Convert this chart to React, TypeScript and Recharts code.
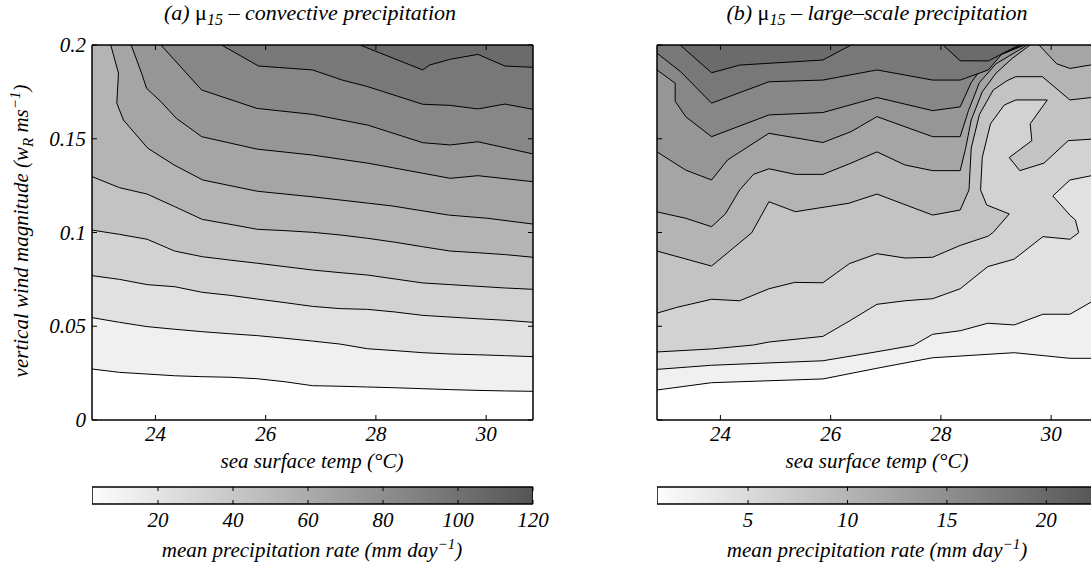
import React from 'react';
import { ComposedChart, Area, Bar, XAxis, YAxis } from 'recharts';

// sea surface temp axis (°C) and vertical wind magnitude axis
const sstDomain: [number, number] = [22.85, 30.85];
const sstTicks = [24, 26, 28, 30];
const windDomain: [number, number] = [0, 0.2];
const windTicks = [0, 0.05, 0.1, 0.15, 0.2];

// grey for the band above contour level k (k = 1..10)
const bandGreys = ['#f0f0f0', '#e1e1e1', '#d2d2d2', '#c3c3c3', '#b4b4b4', '#a5a5a5', '#969696', '#878787', '#787878', '#6b6b6b'];

// colour bars
const convRange: [number, number] = [2.4, 120];
const convTicks = [20, 40, 60, 80, 100, 120];
const lsRange: [number, number] = [0.42, 22.6];
const lsTicks = [5, 10, 15, 20];

// (a) convective: contour lines 1..5 sampled on the sst grid
const convGrid = [22.85, 23.35, 23.85, 24.35, 24.85, 25.35, 25.85, 26.35, 26.85, 27.35, 27.85, 28.35, 28.85, 29.35, 29.85, 30.35, 30.85];
const convL1 = [0.0272, 0.0254, 0.0245, 0.0236, 0.0231, 0.0228, 0.022, 0.0204, 0.0183, 0.018, 0.0176, 0.0172, 0.0167, 0.0162, 0.0158, 0.0155, 0.0153];
const convL2 = [0.0546, 0.0521, 0.0498, 0.0484, 0.0471, 0.046, 0.045, 0.0436, 0.0421, 0.0405, 0.038, 0.037, 0.0359, 0.0352, 0.0348, 0.0343, 0.0338];
const convL3 = [0.077, 0.075, 0.0722, 0.0711, 0.0681, 0.0665, 0.0645, 0.0626, 0.0606, 0.0594, 0.059, 0.0576, 0.0558, 0.0549, 0.054, 0.0532, 0.0521];
const convL4 = [0.1013, 0.099, 0.0964, 0.0901, 0.0871, 0.0853, 0.0836, 0.0818, 0.08, 0.0786, 0.0773, 0.0752, 0.0731, 0.0722, 0.0713, 0.0704, 0.0697];
const convL5 = [0.1298, 0.1239, 0.1205, 0.1138, 0.107, 0.1044, 0.1017, 0.101, 0.1001, 0.0987, 0.0969, 0.0948, 0.0924, 0.0901, 0.0892, 0.0882, 0.0868];
// contour lines 6..10 enter from the top edge, [sst, w]
const convL6 = [[23.19, 0.2], [23.33, 0.185], [23.3, 0.169], [23.42, 0.16], [23.86, 0.145], [24.34, 0.136], [24.86, 0.128], [25.85, 0.122], [26.86, 0.119], [27.87, 0.1156], [28.31, 0.1141], [29.32, 0.1093], [30.02, 0.1076], [30.85, 0.1045]];
const convL7 = [[23.56, 0.2], [23.75, 0.1849], [23.84, 0.1769], [24.1, 0.1698], [24.38, 0.1609], [24.84, 0.1511], [25.84, 0.1445], [26.85, 0.1413], [27.87, 0.1369], [28.85, 0.1316], [29.35, 0.1289], [29.85, 0.1303], [30.85, 0.1271]];
const convL8 = [[24.1, 0.2], [24.84, 0.176], [25.84, 0.1662], [26.85, 0.163], [27.85, 0.1573], [28.85, 0.1479], [29.35, 0.1467], [29.85, 0.1484], [30.85, 0.1419]];
const convL9 = [[25.2, 0.2], [25.87, 0.1888], [26.85, 0.1867], [27.39, 0.1813], [27.85, 0.1778], [28.85, 0.1684], [29.35, 0.1678], [29.85, 0.1659], [30.34, 0.1685], [30.85, 0.1657]];
const convL10 = [[27.71, 0.2], [28.85, 0.1867], [28.97, 0.1893], [29.35, 0.1924], [29.85, 0.195], [30.34, 0.1888], [30.85, 0.1881]];

// (b) large-scale: contour pieces, [sst, w]
const lsB1 = [[22.85, 0.016], [23.84, 0.0199], [25.86, 0.0219], [26.84, 0.0276], [27.85, 0.0332], [29.33, 0.0359], [30.34, 0.0329], [30.85, 0.0329]];
const lsB2 = [[22.85, 0.027], [23.84, 0.0292], [25.86, 0.0316], [26.84, 0.0364], [27.5, 0.0398], [27.85, 0.0457], [28.35, 0.0476], [28.85, 0.0516], [29.33, 0.0507], [29.85, 0.0564], [30.34, 0.0564], [30.85, 0.065]];
const lsB3 = [[22.85, 0.0363], [23.84, 0.0379], [24.6, 0.04], [24.88, 0.0416], [25.86, 0.0446], [26.34, 0.0528], [26.84, 0.0617], [27.35, 0.0636], [27.85, 0.0647], [28.35, 0.07], [28.85, 0.0818], [29.33, 0.0858], [29.85, 0.0978], [30.34, 0.0964], [30.5, 0.0999], [30.44, 0.1067], [30.34, 0.1093], [30.03, 0.1195], [30.34, 0.128], [30.85, 0.131]];
const lsB4 = [[22.85, 0.057], [23.2, 0.06], [23.84, 0.0644], [24.35, 0.0636], [24.88, 0.07], [25.35, 0.0734], [25.86, 0.0732], [26.34, 0.0834], [26.84, 0.0887], [27.35, 0.0864], [27.85, 0.0868], [28.35, 0.0931], [28.86, 0.0981], [28.95, 0.1001], [29.24, 0.1099], [28.83, 0.1147], [28.72, 0.1227], [28.75, 0.14], [28.9, 0.158], [29.15, 0.168], [29.36, 0.1707], [29.93, 0.1707], [29.62, 0.158], [29.65, 0.149], [29.24, 0.14], [29.43, 0.133], [29.87, 0.137], [30.31, 0.149], [30.85, 0.15]];
const lsB5 = [[22.85, 0.0901], [23.84, 0.0821], [24.57, 0.0999], [24.88, 0.1164], [25.36, 0.1111], [26.33, 0.1156], [26.84, 0.1205], [27.85, 0.1093], [28.35, 0.112], [28.51, 0.1227], [28.55, 0.145], [28.7, 0.163], [28.95, 0.176], [29.2, 0.181], [29.36, 0.1831], [29.84, 0.1831], [30.34, 0.1707], [30.85, 0.1724]];
const lsB6 = [[22.85, 0.111], [23.37, 0.1076], [23.84, 0.1031], [24.09, 0.1099], [24.35, 0.1227], [24.6, 0.131], [24.88, 0.134], [25.36, 0.131], [25.86, 0.131], [26.37, 0.137], [26.84, 0.143], [27.35, 0.136], [27.85, 0.133], [28.35, 0.133], [28.45, 0.145], [28.55, 0.16], [28.75, 0.175], [29.0, 0.185], [29.3, 0.193], [29.62, 0.2]];
const lsB6right = [[29.78, 0.2], [30.1, 0.19], [30.34, 0.1875], [30.85, 0.19]];
const lsB7 = [[22.85, 0.143], [23.37, 0.1333], [23.84, 0.128], [24.13, 0.1387], [24.88, 0.1529], [25.86, 0.148], [26.37, 0.1538], [26.84, 0.1618], [27.85, 0.1511], [28.35, 0.1511], [28.5, 0.165], [28.7, 0.18], [29.0, 0.19], [29.57, 0.2]];
const lsB8 = [[22.85, 0.1867], [23.18, 0.1796], [23.18, 0.17], [23.37, 0.1618], [23.84, 0.1511], [24.88, 0.1627], [25.86, 0.164], [26.84, 0.172], [27.85, 0.165], [28.35, 0.167], [28.55, 0.18], [28.85, 0.192], [29.52, 0.2]];
const lsB9 = [[22.85, 0.1956], [23.27, 0.186], [23.84, 0.169], [24.88, 0.1804], [25.86, 0.1813], [26.84, 0.1867], [27.85, 0.1813], [28.35, 0.1813], [28.86, 0.1867], [29.1, 0.195], [29.47, 0.2]];
const lsB10 = [[23.27, 0.2], [23.84, 0.1852], [24.35, 0.1893], [25.86, 0.192], [26.37, 0.2]];
const lsB10b = [[28.04, 0.2], [28.35, 0.1916], [28.86, 0.1915], [29.42, 0.2]];

const FONT = '"Liberation Serif", "DejaVu Serif", "Noto Serif", Times, serif';
const MARK = 5;

type Piece = { pts: { x: number; y: number }[]; fill: string };

const fromGrid = (ys: number[]) => ys.map((y, i) => ({ x: convGrid[i], y }));
const fromPairs = (pairs: number[][]) => pairs.map(([x, y]) => ({ x, y }));

const convPieces: Piece[] = [
  ...[convL1, convL2, convL3, convL4, convL5].map((ys, i) => ({ pts: fromGrid(ys), fill: bandGreys[i] })),
  ...[convL6, convL7, convL8, convL9, convL10].map((p, i) => ({ pts: fromPairs(p), fill: bandGreys[i + 5] })),
];

const lsPieces: Piece[] = [
  { pts: fromPairs(lsB1), fill: bandGreys[0] },
  { pts: fromPairs(lsB2), fill: bandGreys[1] },
  { pts: fromPairs(lsB3), fill: bandGreys[2] },
  { pts: fromPairs(lsB4), fill: bandGreys[3] },
  { pts: fromPairs(lsB5), fill: bandGreys[4] },
  { pts: fromPairs(lsB6), fill: bandGreys[5] },
  { pts: fromPairs(lsB6right), fill: bandGreys[5] },
  { pts: fromPairs(lsB7), fill: bandGreys[6] },
  { pts: fromPairs(lsB8), fill: bandGreys[7] },
  { pts: fromPairs(lsB9), fill: bandGreys[8] },
  { pts: fromPairs(lsB10), fill: bandGreys[9] },
  { pts: fromPairs(lsB10b), fill: bandGreys[9] },
];

const tickText = { fontFamily: FONT, fontStyle: 'italic' as const, fontSize: 21, fill: '#000' };

const BottomTick = (p: any) => (
  <g>
    <line x1={p.x} y1={p.y} x2={p.x} y2={p.y - MARK} stroke="#000" />
    <text x={p.x} y={p.y + 21} textAnchor="middle" {...tickText}>{p.payload.value}</text>
  </g>
);
const TopTick = (p: any) => <line x1={p.x} y1={p.y} x2={p.x} y2={p.y + MARK} stroke="#000" />;
const RightTick = (p: any) => <line x1={p.x} y1={p.y} x2={p.x - MARK} y2={p.y} stroke="#000" />;
const LeftTick = (p: any) => (
  <g>
    <line x1={p.x} y1={p.y} x2={p.x + MARK} y2={p.y} stroke="#000" />
    <text x={p.x - 6} y={p.y + 7} textAnchor="end" {...tickText}>{p.payload.value}</text>
  </g>
);
const LeftMark = (p: any) => <line x1={p.x} y1={p.y} x2={p.x + MARK} y2={p.y} stroke="#000" />;

const axisLine = { stroke: '#000', strokeWidth: 1.5 };

function ContourPanel({ pieces, yLabels }: { pieces: Piece[]; yLabels: boolean }) {
  return (
    <ComposedChart width={560} height={470} margin={{ top: 44, right: 26, bottom: 0, left: 52 }}>
      <XAxis xAxisId="b" type="number" dataKey="x" domain={sstDomain} ticks={sstTicks} allowDataOverflow height={50}
        tickSize={0} tickMargin={0} tickLine={false} axisLine={axisLine} tick={BottomTick} interval={0} />
      <XAxis xAxisId="t" orientation="top" type="number" dataKey="x" domain={sstDomain} ticks={sstTicks} allowDataOverflow height={1}
        tickSize={0} tickMargin={0} tickLine={false} axisLine={axisLine} tick={TopTick} interval={0} />
      <YAxis yAxisId="l" type="number" dataKey="y" domain={windDomain} ticks={windTicks} allowDataOverflow width={40}
        tickSize={0} tickMargin={0} tickLine={false} axisLine={axisLine} tick={yLabels ? LeftTick : LeftMark} interval={0} />
      <YAxis yAxisId="r" orientation="right" type="number" dataKey="y" domain={windDomain} ticks={windTicks} allowDataOverflow width={1}
        tickSize={0} tickMargin={0} tickLine={false} axisLine={axisLine} tick={RightTick} interval={0} />
      {pieces.map((pc, i) => (
        <Area key={i} xAxisId="b" yAxisId="l" data={pc.pts} dataKey="y" type="linear" baseValue="dataMax"
          fill={pc.fill} fillOpacity={1} stroke="#000" strokeWidth={1} dot={false} activeDot={false}
          isAnimationActive={false} />
      ))}
    </ComposedChart>
  );
}

function ColourBar({ range, ticks, id }: { range: [number, number]; ticks: number[]; id: string }) {
  const data = [{ name: 'bar', span: range }];
  const CbTick = (p: any) => (
    <g>
      <line x1={p.x} y1={p.y} x2={p.x} y2={p.y - 4} stroke="#000" />
      <line x1={p.x} y1={p.y - 17} x2={p.x} y2={p.y - 13} stroke="#000" />
      <text x={p.x} y={p.y + 23} textAnchor="middle" {...tickText}>{p.payload.value}</text>
    </g>
  );
  return (
    <ComposedChart layout="vertical" width={560} height={80} data={data} barCategoryGap={0}
      margin={{ top: 7, right: 27, bottom: 0, left: 92 }}>
      <defs>
        <linearGradient id={id} x1="0" y1="0" x2="1" y2="0">
          <stop offset="0" stopColor="#fdfdfd" />
          <stop offset="1" stopColor="#555555" />
        </linearGradient>
      </defs>
      <XAxis type="number" domain={range} ticks={ticks} allowDataOverflow height={56} tickSize={0} tickMargin={0}
        tickLine={false} axisLine={false} tick={CbTick} interval={0} />
      <YAxis type="category" dataKey="name" hide />
      <Bar dataKey="span" fill={`url(#${id})`} stroke="#000" strokeWidth={1.5} isAnimationActive={false} />
    </ComposedChart>
  );
}

const label = (left: number, top: number): React.CSSProperties => ({
  position: 'absolute', left, top, transform: 'translate(-50%, -50%)', whiteSpace: 'nowrap', lineHeight: 1,
});

export default function App() {
  return (
    <div style={{ position: 'absolute', left: 0, top: 0, width: 1091, height: 567, overflow: 'hidden', background: '#fff',
      fontFamily: FONT, fontStyle: 'italic', fontSize: 21, color: '#000' }}>
      <div style={{ ...label(310, 15), fontSize: 22 }}>(a) <span style={{ fontStyle: 'normal' }}>μ</span><sub style={{ fontSize: 16 }}>15</sub> – convective precipitation</div>
      <div style={{ ...label(877, 15), fontSize: 22 }}>(b) <span style={{ fontStyle: 'normal' }}>μ</span><sub style={{ fontSize: 16 }}>15</sub> – large–scale precipitation</div>

      <div style={{ position: 'absolute', left: 0, top: 0 }}>
        <ContourPanel pieces={convPieces} yLabels />
      </div>
      <div style={{ position: 'absolute', left: 565, top: 0 }}>
        <ContourPanel pieces={lsPieces} yLabels={false} />
      </div>

      <div style={{ ...label(22, 231), transform: 'translate(-50%, -50%) rotate(-90deg)' }}>
        vertical wind magnitude (w<sub style={{ fontSize: 15 }}>R</sub> ms<sup style={{ fontSize: 15 }}>−1</sup>)
      </div>

      <div style={label(312, 461)}>sea surface temp (°C)</div>
      <div style={label(877, 461)}>sea surface temp (°C)</div>

      <div style={{ position: 'absolute', left: 0, top: 480 }}>
        <ColourBar range={convRange} ticks={convTicks} id="cbConv" />
      </div>
      <div style={{ position: 'absolute', left: 565, top: 480 }}>
        <ColourBar range={lsRange} ticks={lsTicks} id="cbLs" />
      </div>

      <div style={label(312, 549)}>mean precipitation rate (mm day<sup style={{ fontSize: 15 }}>−1</sup>)</div>
      <div style={label(877, 549)}>mean precipitation rate (mm day<sup style={{ fontSize: 15 }}>−1</sup>)</div>
    </div>
  );
}
